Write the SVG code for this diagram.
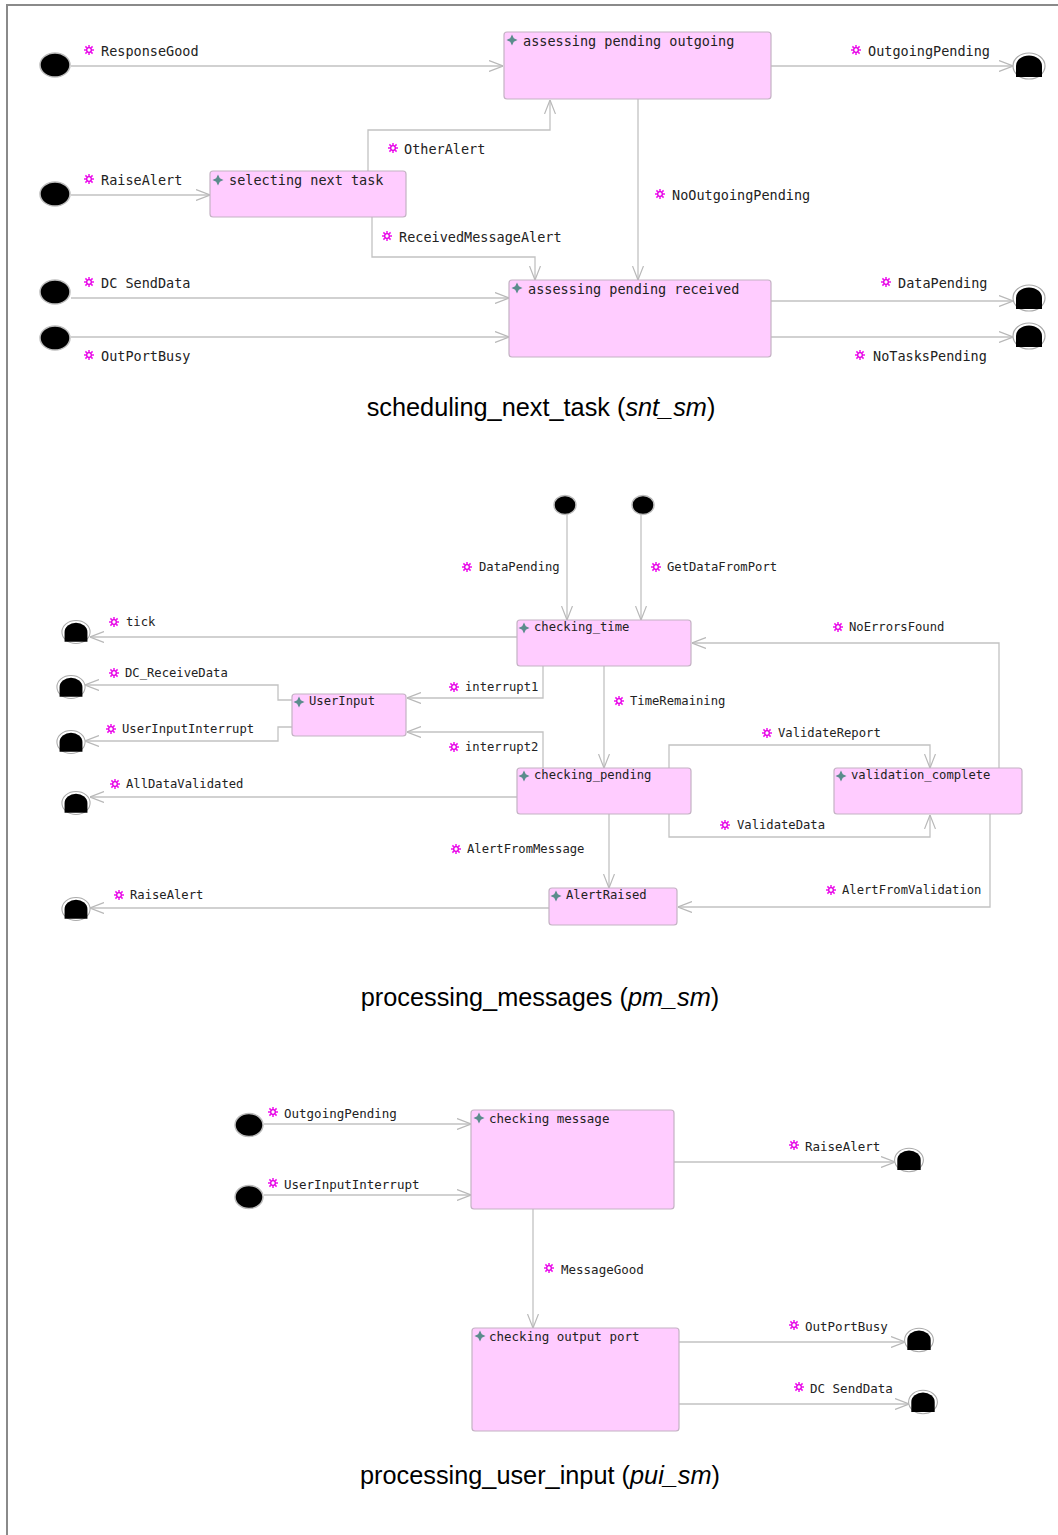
<svg xmlns="http://www.w3.org/2000/svg" xmlns:xlink="http://www.w3.org/1999/xlink" width="1058" height="1535" viewBox="0 0 1058 1535">
  <style>
    .st rect { fill: #ffccff; stroke: #c4b2c4; stroke-width: 1.2; }
    .conn path { fill: none; stroke: #c2c2c2; stroke-width: 1.3; }
    .t1 { font-family: "DejaVu Sans Mono", "Liberation Mono", monospace; font-size: 13.5px; fill: #222; }
    .t2 { font-family: "DejaVu Sans Mono", "Liberation Mono", monospace; font-size: 12.2px; fill: #222; }
    .t3 { font-family: "DejaVu Sans Mono", "Liberation Mono", monospace; font-size: 12.5px; fill: #222; }
    .title { font-family: "Liberation Sans", Arial, sans-serif; font-size: 25.3px; fill: #000; }
    .init { fill: #000; stroke: #bdbdbd; stroke-width: 1.5; }
  </style>
  <defs>
    <marker id="arr" viewBox="0 0 14 12" refX="14" refY="6" markerWidth="14" markerHeight="12" markerUnits="userSpaceOnUse" orient="auto">
      <path d="M0,0.5 L14,6 L0,11.5" fill="none" stroke="#b8b8b8" stroke-width="1.2"/>
    </marker>
    <!-- event icon: magenta burst -->
    <g id="ev">
      <path d="M-5,0 H5 M0,-5 V5 M-3.6,-3.6 L3.6,3.6 M-3.6,3.6 L3.6,-3.6" stroke="#f010f0" stroke-width="1.5"/>
      <circle r="2.3" fill="#fff" stroke="#e000e0" stroke-width="1.3"/>
    </g>
    <!-- state icon: four-point star -->
    <path id="si" d="M0,-5.5 L1.8,-1.8 L5.5,0 L1.8,1.8 L0,5.5 L-1.8,1.8 L-5.5,0 L-1.8,-1.8 Z" fill="#5a8c8c"/>
    <!-- final state -->
    <g id="fin">
      <ellipse rx="16" ry="13" fill="#fff" stroke="#aaa" stroke-width="1.2"/>
      <path d="M-13,11 V0 A13,10.5 0 0 1 13,0 V11 Z" fill="#000"/>
    </g>
  </defs>

  <rect width="1058" height="1535" fill="#fff"/>
  <!-- frame -->
  <path d="M7,1535 V5 H1058" fill="none" stroke="#8a8a8a" stroke-width="2"/>

  <!-- ===================== scheduling_next_task ===================== -->
  <g id="snt-initials">
    <ellipse class="init" cx="55" cy="65" rx="15" ry="12"/>
    <ellipse class="init" cx="55" cy="194" rx="15" ry="12"/>
    <ellipse class="init" cx="55" cy="292" rx="15" ry="12"/>
    <ellipse class="init" cx="55" cy="338" rx="15" ry="12"/>
  </g>
  <g id="snt-finals">
    <use href="#fin" x="1029" y="66"/>
    <use href="#fin" x="1029" y="298"/>
    <use href="#fin" x="1029" y="336"/>
  </g>

  <g id="snt-connectors" class="conn">
    <path d="M71,66 H503" marker-end="url(#arr)"/>
    <path d="M771,66 H1013" marker-end="url(#arr)"/>
    <path d="M71,195 H210" marker-end="url(#arr)"/>
    <path d="M368,171 V130 H550 V100" marker-end="url(#arr)"/>
    <path d="M372,217 V257 H535 V280" marker-end="url(#arr)"/>
    <path d="M638,99 V280" marker-end="url(#arr)"/>
    <path d="M71,298 H509" marker-end="url(#arr)"/>
    <path d="M71,337 H509" marker-end="url(#arr)"/>
    <path d="M771,301 H1013" marker-end="url(#arr)"/>
    <path d="M771,337 H1013" marker-end="url(#arr)"/>
  </g>

  <g id="snt-labels" class="t1">
    <use href="#ev" x="89" y="50"/><text x="101" y="56">ResponseGood</text>
    <use href="#ev" x="856" y="50"/><text x="868" y="56">OutgoingPending</text>
    <use href="#ev" x="89" y="179"/><text x="101" y="185">RaiseAlert</text>
    <use href="#ev" x="393" y="148"/><text x="404" y="154">OtherAlert</text>
    <use href="#ev" x="660" y="194"/><text x="672" y="200">NoOutgoingPending</text>
    <use href="#ev" x="387" y="236"/><text x="399" y="242">ReceivedMessageAlert</text>
    <use href="#ev" x="89" y="282"/><text x="101" y="288">DC SendData</text>
    <use href="#ev" x="886" y="282"/><text x="898" y="288">DataPending</text>
    <use href="#ev" x="89" y="355"/><text x="101" y="361">OutPortBusy</text>
    <use href="#ev" x="860" y="355"/><text x="873" y="361">NoTasksPending</text>
  </g>

  <g id="assessing-pending-outgoing" class="st">
    <rect x="504" y="32" width="267" height="67" rx="3"/>
    <use href="#si" x="512" y="40"/>
    <text class="t1" x="523" y="46">assessing pending outgoing</text>
  </g>
  <g id="selecting-next-task" class="st">
    <rect x="210" y="171" width="196" height="46" rx="3"/>
    <use href="#si" x="218" y="180"/>
    <text class="t1" x="229" y="185">selecting next task</text>
  </g>
  <g id="assessing-pending-received" class="st">
    <rect x="509" y="280" width="262" height="77" rx="3"/>
    <use href="#si" x="517" y="288"/>
    <text class="t1" x="528" y="294">assessing pending received</text>
  </g>

  <text class="title" x="541" y="416" text-anchor="middle">scheduling_next_task (<tspan font-style="italic">snt_sm</tspan>)</text>

  <!-- ===================== processing_messages ===================== -->
  <g id="pm-initials">
    <ellipse class="init" cx="565" cy="505" rx="11" ry="9.5"/>
    <ellipse class="init" cx="643" cy="505" rx="11" ry="9.5"/>
  </g>
  <g id="pm-finals">
    <use href="#fin" transform="translate(76,632) scale(0.88)"/>
    <use href="#fin" transform="translate(71,687) scale(0.88)"/>
    <use href="#fin" transform="translate(71,742) scale(0.88)"/>
    <use href="#fin" transform="translate(76,803) scale(0.88)"/>
    <use href="#fin" transform="translate(76,909) scale(0.88)"/>
  </g>

  <g id="pm-connectors" class="conn">
    <path d="M567,514 V620" marker-end="url(#arr)"/>
    <path d="M641,514 V620" marker-end="url(#arr)"/>
    <path d="M517,637 H90" marker-end="url(#arr)"/>
    <path d="M543,666 V698 H407" marker-end="url(#arr)"/>
    <path d="M543,768 V732 H407" marker-end="url(#arr)"/>
    <path d="M292,700 H278 V685 H85" marker-end="url(#arr)"/>
    <path d="M292,727 H278 V741 H85" marker-end="url(#arr)"/>
    <path d="M604,666 V768" marker-end="url(#arr)"/>
    <path d="M999,768 V643 H692" marker-end="url(#arr)"/>
    <path d="M669,768 V745 H930 V768" marker-end="url(#arr)"/>
    <path d="M669,814 V837 H930 V815" marker-end="url(#arr)"/>
    <path d="M517,797 H90" marker-end="url(#arr)"/>
    <path d="M609,814 V888" marker-end="url(#arr)"/>
    <path d="M990,814 V907 H678" marker-end="url(#arr)"/>
    <path d="M549,908 H90" marker-end="url(#arr)"/>
  </g>

  <g id="pm-labels" class="t2">
    <use href="#ev" x="467" y="567"/><text x="479" y="571">DataPending</text>
    <use href="#ev" x="656" y="567"/><text x="667" y="571">GetDataFromPort</text>
    <use href="#ev" x="114" y="622"/><text x="126" y="626">tick</text>
    <use href="#ev" x="838" y="627"/><text x="849" y="631">NoErrorsFound</text>
    <use href="#ev" x="114" y="673"/><text x="125" y="677">DC_ReceiveData</text>
    <use href="#ev" x="454" y="687"/><text x="465" y="691">interrupt1</text>
    <use href="#ev" x="619" y="701"/><text x="630" y="705">TimeRemaining</text>
    <use href="#ev" x="111" y="729"/><text x="122" y="733">UserInputInterrupt</text>
    <use href="#ev" x="767" y="733"/><text x="778" y="737">ValidateReport</text>
    <use href="#ev" x="454" y="747"/><text x="465" y="751">interrupt2</text>
    <use href="#ev" x="115" y="784"/><text x="126" y="788">AllDataValidated</text>
    <use href="#ev" x="725" y="825"/><text x="737" y="829">ValidateData</text>
    <use href="#ev" x="456" y="849"/><text x="467" y="853">AlertFromMessage</text>
    <use href="#ev" x="831" y="890"/><text x="842" y="894">AlertFromValidation</text>
    <use href="#ev" x="119" y="895"/><text x="130" y="899">RaiseAlert</text>
  </g>

  <g id="checking_time" class="st">
    <rect x="517" y="620" width="174" height="46" rx="3"/>
    <use href="#si" x="524" y="628"/>
    <text class="t2" x="534" y="631">checking_time</text>
  </g>
  <g id="UserInput" class="st">
    <rect x="292" y="694" width="114" height="42" rx="3"/>
    <use href="#si" x="299" y="702"/>
    <text class="t2" x="309" y="705">UserInput</text>
  </g>
  <g id="checking_pending" class="st">
    <rect x="517" y="768" width="174" height="46" rx="3"/>
    <use href="#si" x="524" y="776"/>
    <text class="t2" x="534" y="779">checking_pending</text>
  </g>
  <g id="validation_complete" class="st">
    <rect x="834" y="768" width="188" height="46" rx="3"/>
    <use href="#si" x="841" y="776"/>
    <text class="t2" x="851" y="779">validation_complete</text>
  </g>
  <g id="AlertRaised" class="st">
    <rect x="549" y="888" width="128" height="37" rx="3"/>
    <use href="#si" x="556" y="896"/>
    <text class="t2" x="566" y="899">AlertRaised</text>
  </g>

  <text class="title" x="540" y="1006" text-anchor="middle">processing_messages (<tspan font-style="italic">pm_sm</tspan>)</text>

  <!-- ===================== processing_user_input ===================== -->
  <g id="pui-initials">
    <ellipse class="init" cx="249" cy="1125" rx="14" ry="11.5"/>
    <ellipse class="init" cx="249" cy="1197" rx="14" ry="11.5"/>
  </g>
  <g id="pui-finals">
    <use href="#fin" transform="translate(909,1160) scale(0.9)"/>
    <use href="#fin" transform="translate(919,1340) scale(0.9)"/>
    <use href="#fin" transform="translate(923,1402) scale(0.9)"/>
  </g>

  <g id="pui-connectors" class="conn">
    <path d="M264,1124 H471" marker-end="url(#arr)"/>
    <path d="M264,1195 H471" marker-end="url(#arr)"/>
    <path d="M674,1162 H895" marker-end="url(#arr)"/>
    <path d="M533,1209 V1328" marker-end="url(#arr)"/>
    <path d="M679,1342 H905" marker-end="url(#arr)"/>
    <path d="M679,1404 H909" marker-end="url(#arr)"/>
  </g>

  <g id="pui-labels" class="t3">
    <use href="#ev" x="273" y="1112"/><text x="284" y="1118">OutgoingPending</text>
    <use href="#ev" x="273" y="1183"/><text x="284" y="1189">UserInputInterrupt</text>
    <use href="#ev" x="794" y="1145"/><text x="805" y="1151">RaiseAlert</text>
    <use href="#ev" x="549" y="1268"/><text x="561" y="1274">MessageGood</text>
    <use href="#ev" x="794" y="1325"/><text x="805" y="1331">OutPortBusy</text>
    <use href="#ev" x="799" y="1387"/><text x="810" y="1393">DC SendData</text>
  </g>

  <g id="checking-message" class="st">
    <rect x="471" y="1110" width="203" height="99" rx="3"/>
    <use href="#si" x="479" y="1118"/>
    <text class="t3" x="489" y="1123">checking message</text>
  </g>
  <g id="checking-output-port" class="st">
    <rect x="472" y="1328" width="207" height="103" rx="3"/>
    <use href="#si" x="480" y="1336"/>
    <text class="t3" x="489" y="1341">checking output port</text>
  </g>

  <text class="title" x="540" y="1484" text-anchor="middle">processing_user_input (<tspan font-style="italic">pui_sm</tspan>)</text>
</svg>
